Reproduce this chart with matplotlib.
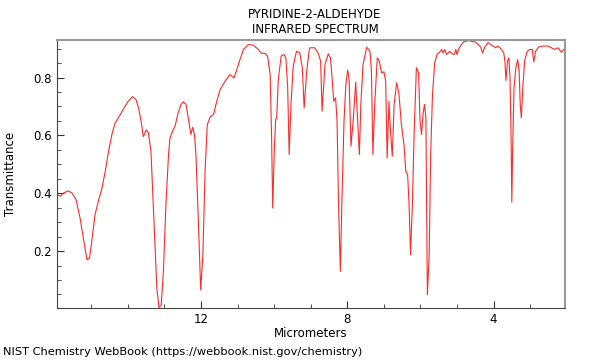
import numpy as np
import matplotlib
matplotlib.use("Agg")
import matplotlib.pyplot as plt
from matplotlib.ticker import MultipleLocator

# spectrum (micrometers, transmittance)
wavelength = [
    15.94, 15.85, 15.76, 15.64, 15.53, 15.42, 15.31, 15.22, 15.12, 15.05,
    14.99, 14.90, 14.81, 14.71, 14.62, 14.53, 14.44, 14.35, 14.21, 14.08,
    13.99, 13.88, 13.78, 13.71, 13.64, 13.58, 13.55, 13.50, 13.44, 13.37,
    13.30, 13.21, 13.15, 13.09, 13.03, 12.96, 12.89, 12.85, 12.78, 12.71,
    12.64, 12.55, 12.48, 12.41, 12.35, 12.28, 12.23, 12.18, 12.14, 12.07,
    12.01, 11.95, 11.89, 11.83, 11.75, 11.66, 11.57, 11.48, 11.34, 11.21,
    11.16, 11.10, 11.02, 10.95, 10.84, 10.71, 10.57, 10.43, 10.36, 10.25,
    10.18, 10.11, 10.07, 10.04, 10.00, 9.96, 9.93, 9.89, 9.81, 9.73,
    9.68, 9.63, 9.59, 9.54, 9.48, 9.39, 9.30, 9.23, 9.18, 9.11,
    9.04, 9.02, 8.89, 8.80, 8.73, 8.69, 8.61, 8.52, 8.46, 8.41,
    8.37, 8.32, 8.28, 8.24, 8.19, 8.15, 8.09, 8.04, 7.99, 7.95,
    7.90, 7.84, 7.77, 7.73, 7.67, 7.63, 7.57, 7.47, 7.38, 7.34,
    7.30, 7.25, 7.18, 7.13, 7.06, 7.00, 6.95, 6.91, 6.86, 6.83,
    6.77, 6.72, 6.65, 6.59, 6.52, 6.45, 6.40, 6.35, 6.31, 6.27,
    6.22, 6.17, 6.11, 6.05, 6.01, 5.97, 5.93, 5.89, 5.85, 5.81,
    5.76, 5.72, 5.67, 5.61, 5.54, 5.49, 5.42, 5.38, 5.33, 5.29,
    5.24, 5.20, 5.13, 5.08, 5.03, 5.00, 4.94, 4.88, 4.81, 4.74,
    4.67, 4.58, 4.51, 4.42, 4.35, 4.30, 4.24, 4.15, 4.08, 4.01,
    3.94, 3.88, 3.78, 3.72, 3.69, 3.66, 3.62, 3.58, 3.55, 3.52,
    3.50, 3.48, 3.44, 3.39, 3.34, 3.30, 3.27, 3.24, 3.20, 3.15,
    3.08, 3.01, 2.94, 2.90, 2.85, 2.76, 2.65, 2.51, 2.42, 2.33,
    2.24, 2.14, 2.08, 2.05,
]
transmittance = [
    0.395, 0.390, 0.401, 0.408, 0.401, 0.378, 0.315, 0.245, 0.170, 0.176,
    0.234, 0.326, 0.372, 0.418, 0.476, 0.545, 0.603, 0.643, 0.672, 0.701,
    0.718, 0.734, 0.724, 0.695, 0.649, 0.596, 0.603, 0.619, 0.609, 0.545,
    0.338, 0.072, 0.005, 0.014, 0.130, 0.361, 0.534, 0.591, 0.615, 0.632,
    0.672, 0.707, 0.716, 0.707, 0.661, 0.603, 0.628, 0.603, 0.534, 0.291,
    0.066, 0.188, 0.476, 0.637, 0.664, 0.672, 0.718, 0.758, 0.788, 0.810,
    0.805, 0.799, 0.828, 0.857, 0.897, 0.914, 0.912, 0.897, 0.885, 0.883,
    0.874, 0.810, 0.591, 0.349, 0.534, 0.655, 0.661, 0.788, 0.874, 0.880,
    0.868, 0.764, 0.534, 0.707, 0.839, 0.891, 0.885, 0.834, 0.695, 0.822,
    0.897, 0.903, 0.903, 0.885, 0.857, 0.684, 0.845, 0.882, 0.868, 0.788,
    0.718, 0.730, 0.649, 0.361, 0.130, 0.361, 0.649, 0.776, 0.826, 0.793,
    0.563, 0.649, 0.784, 0.684, 0.534, 0.707, 0.845, 0.905, 0.891, 0.822,
    0.534, 0.707, 0.868, 0.859, 0.816, 0.820, 0.788, 0.522, 0.718, 0.637,
    0.528, 0.707, 0.782, 0.747, 0.637, 0.568, 0.476, 0.464, 0.361, 0.188,
    0.361, 0.615, 0.834, 0.816, 0.649, 0.603, 0.672, 0.707, 0.661, 0.049,
    0.188, 0.534, 0.741, 0.851, 0.882, 0.885, 0.897, 0.885, 0.897, 0.880,
    0.885, 0.891, 0.882, 0.880, 0.897, 0.880, 0.903, 0.914, 0.924, 0.926,
    0.928, 0.924, 0.924, 0.914, 0.905, 0.885, 0.905, 0.921, 0.914, 0.909,
    0.903, 0.909, 0.897, 0.885, 0.857, 0.790, 0.857, 0.868, 0.799, 0.591,
    0.369, 0.534, 0.764, 0.834, 0.862, 0.822, 0.707, 0.661, 0.764, 0.857,
    0.891, 0.897, 0.897, 0.854, 0.891, 0.906, 0.909, 0.909, 0.903, 0.897,
    0.903, 0.887, 0.897, 0.899,
]

title_lines = ["PYRIDINE-2-ALDEHYDE", "INFRARED SPECTRUM"]
x_ticks = [12, 8, 4]
y_ticks = [0.2, 0.4, 0.6, 0.8]

fig = plt.figure(figsize=(6, 3.6), dpi=100)
ax = fig.add_axes([0.095, 0.145, 0.847, 0.744])

ax.plot(wavelength, transmittance, color="#ff2a2a", linewidth=0.8)

ax.set_xlim(15.94, 2.04)
ax.set_ylim(0.004, 0.93)
ax.set_xticks(x_ticks)
ax.set_yticks(y_ticks)
ax.xaxis.set_minor_locator(MultipleLocator(1))
ax.yaxis.set_minor_locator(MultipleLocator(0.05))
ax.tick_params(which="both", direction="in", labelsize=8.5, color="#333333")
ax.tick_params(which="major", length=5)
ax.tick_params(which="minor", length=3)

for side in ["left", "bottom"]:
    ax.spines[side].set_color("#444444")
for side in ["top", "right"]:
    ax.spines[side].set_color("#999999")
    ax.spines[side].set_linewidth(1.5)

ax.set_xlabel("Micrometers", fontsize=8.5, labelpad=1)
ax.set_ylabel("Transmittance", fontsize=8.5)
ax.yaxis.set_label_coords(-0.078, 0.5)

# two-line title, placed like the reference
fig.text(0.525, 0.961, title_lines[0], fontsize=8.5, ha="center", va="center")
fig.text(0.525, 0.917, title_lines[1], fontsize=8.5, ha="center", va="center")

fig.text(0.005, 0.022, "NIST Chemistry WebBook (https://webbook.nist.gov/chemistry)",
         fontsize=8.2, ha="left", va="center")

fig.savefig("out.png", dpi=100)
